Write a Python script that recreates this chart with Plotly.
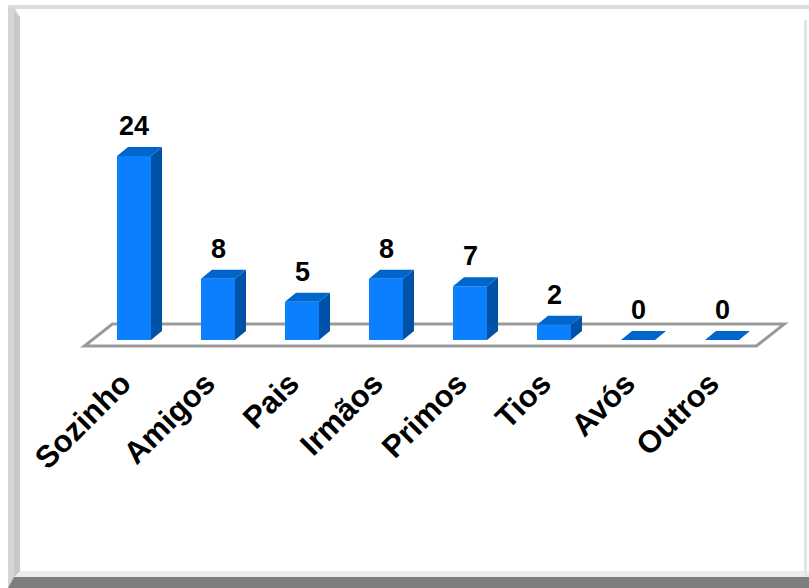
import plotly.graph_objects as go

# Data
categories = ["Sozinho", "Amigos", "Pais", "Irmãos", "Primos", "Tios", "Avós", "Outros"]
values = [24, 8, 5, 8, 7, 2, 0, 0]

# Styling constants
W, H = 809, 588
PX_PER_X = 84.0          # pixels per category step
PX_PER_Y = 7.667         # pixels per unit of value
ORIGIN_PX = (134, 340)   # pixel position of (x=0, y=0)
BAR_W = 34 / PX_PER_X
DEPTH_X = 11 / PX_PER_X  # 3-D depth of the bars
DEPTH_Y = 9 / PX_PER_Y
FRONT = "#0A80FF"
SIDE = "#0052A8"
TOP = "#0066CC"

x_range = [-ORIGIN_PX[0] / PX_PER_X, (W - ORIGIN_PX[0]) / PX_PER_X]
y_range = [-(H - ORIGIN_PX[1]) / PX_PER_Y, ORIGIN_PX[1] / PX_PER_Y]

fig = go.Figure()

# Front faces of the bars
xs = list(range(len(categories)))
fig.add_trace(go.Bar(
    x=xs, y=values, width=BAR_W, marker=dict(color=FRONT, line=dict(width=0)),
    hoverinfo="skip", showlegend=False,
))

# Side and top faces derived from each bar's value
for i, v in enumerate(values):
    l, r = i - BAR_W / 2, i + BAR_W / 2
    if v > 0:
        fig.add_trace(go.Scatter(
            x=[r, r + DEPTH_X, r + DEPTH_X, r, r],
            y=[0, DEPTH_Y, v + DEPTH_Y, v, 0],
            fill="toself", fillcolor=SIDE, mode="lines", line=dict(width=0, color=SIDE),
            hoverinfo="skip", showlegend=False,
        ))
    fig.add_trace(go.Scatter(
        x=[l, r, r + DEPTH_X, l + DEPTH_X, l],
        y=[v, v, v + DEPTH_Y, v + DEPTH_Y, v],
        fill="toself", fillcolor=TOP, mode="lines", line=dict(width=0, color=TOP),
        hoverinfo="skip", showlegend=False,
    ))

# Value labels
for i, v in enumerate(values):
    fig.add_annotation(
        x=i, y=v, text=str(v), showarrow=False, yanchor="bottom", yshift=13,
        font=dict(family="Liberation Sans, Arial", size=27, color="black", weight="bold"),
    )

# Floor of the chart (below the bars)
fl, fr = -0.5 - 7.6 / PX_PER_X, len(categories) - 0.5 - 7.6 / PX_PER_X
fy = -6 / PX_PER_Y
bdx, bdy = 28 / PX_PER_X, 22 / PX_PER_Y
floor_path = (f"M {fl},{fy} L {fr},{fy} L {fr + bdx},{fy + bdy} "
              f"L {fl + bdx},{fy + bdy} Z")
fig.add_shape(type="path", path=floor_path, xref="x", yref="y", layer="below",
              line=dict(color="#9A9A9A", width=3), fillcolor="white")


# Beveled frame around the chart (paper coordinates)
def px(x):
    return x / W


def py(y):
    return 1 - y / H


frame = [
    # top edge
    dict(path=f"M {px(8)},{py(5)} L {px(809)},{py(5)} L {px(809)},{py(9)} L {px(8)},{py(9)} Z",
         fillcolor="#DCDCDC"),
    # left bevel
    dict(path=f"M {px(8)},{py(7)} L {px(14)},{py(7)} L {px(20)},{py(17)} L {px(20)},{py(575)} "
              f"L {px(8)},{py(588)} Z", fillcolor="#D6D6D6"),
    dict(path=f"M {px(14)},{py(12)} L {px(20)},{py(17)} L {px(20)},{py(575)} L {px(14)},{py(581)} Z",
         fillcolor="#C8C8C8"),
    # bottom bevel
    dict(path=f"M {px(20)},{py(571)} L {px(809)},{py(571)} L {px(809)},{py(577)} L {px(14)},{py(577)} Z",
         fillcolor="#EDEDED"),
    dict(path=f"M {px(14)},{py(577)} L {px(809)},{py(577)} L {px(809)},{py(588)} L {px(8)},{py(588)} Z",
         fillcolor="#7E7E7E"),
    # right edge
    dict(path=f"M {px(804)},{py(20)} L {px(807)},{py(20)} L {px(807)},{py(577)} L {px(804)},{py(577)} Z",
         fillcolor="#E4E4E4"),
]
for f in frame:
    fig.add_shape(type="path", xref="paper", yref="paper", path=f["path"],
                  fillcolor=f["fillcolor"], line=dict(width=0), layer="above")

fig.update_layout(
    width=W, height=H,
    margin=dict(l=0, r=0, t=0, b=0, pad=0),
    paper_bgcolor="white", plot_bgcolor="white",
    showlegend=False,
    xaxis=dict(
        range=x_range, tickvals=xs, ticktext=categories, tickangle=-45,
        anchor="free", position=py(358), showgrid=False, zeroline=False,
        showline=False, ticks="", fixedrange=True, ticklabelshift=-12,
        tickfont=dict(family="Liberation Sans, Arial", size=31, color="black", weight="bold"),
    ),
    yaxis=dict(range=y_range, visible=False, showgrid=False, zeroline=False, fixedrange=True),
)

fig.write_html("out.html")
